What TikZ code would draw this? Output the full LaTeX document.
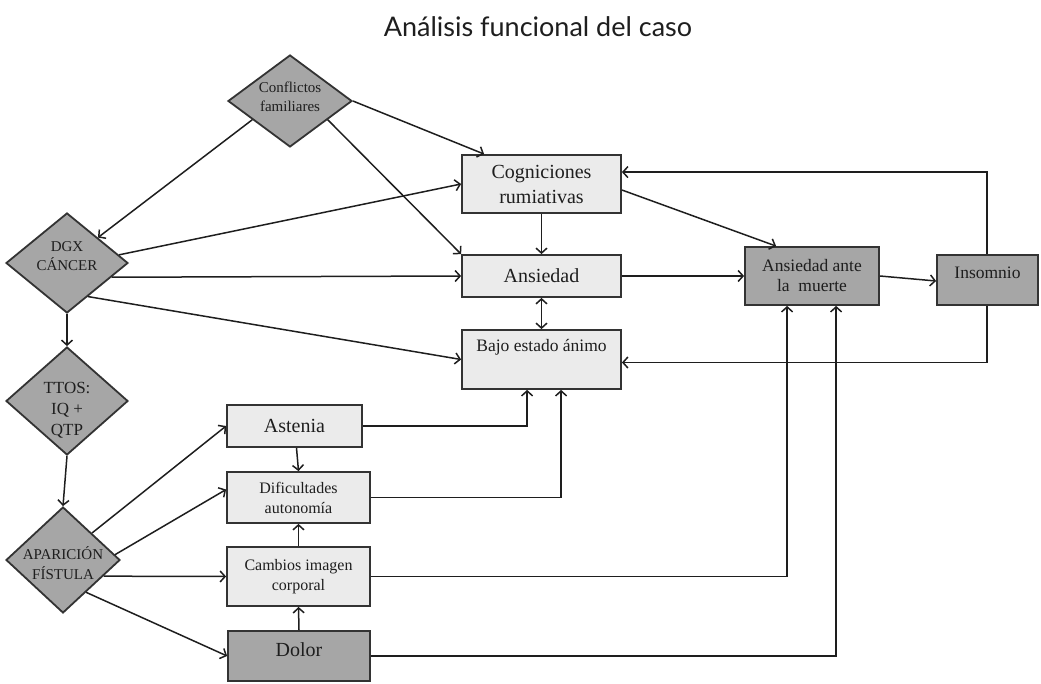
\documentclass[tikz,border=0pt]{standalone}
\usepackage{fontspec}
\setmainfont{Liberation Serif}
\newfontfamily\titlefont{Lato}
\usetikzlibrary{shapes.geometric,arrows.meta,calc}
\definecolor{lightfill}{HTML}{EBEBEB}
\definecolor{darkfill}{HTML}{A6A6A6}
\definecolor{boxline}{HTML}{333333}
\definecolor{lncol}{HTML}{1E1E1E}
\definecolor{txt}{HTML}{1E1E1E}
\begin{document}
\begin{tikzpicture}[x=1pt,y=-1pt,
  box/.style={rectangle,draw=boxline,line width=1.8pt,fill=lightfill,inner sep=0pt,align=center,text=txt},
  lbox/.style={box,fill=lightfill},
  dbox/.style={box,fill=darkfill},
  diam/.style={diamond,draw=boxline,line width=1.8pt,fill=darkfill,inner sep=0pt},
  lab/.style={align=center,text=txt,inner sep=0pt},
  tip/.style={},
  arr/.style={line width=1.5pt,draw=lncol,-{Straight Barb[length=5pt,width=11pt,line width=1.5pt]}},
  darr/.style={line width=1.5pt,draw=lncol,{Straight Barb[length=5pt,width=11pt,line width=1.5pt]}-{Straight Barb[length=5pt,width=11pt,line width=1.5pt]}},
  ln/.style={line width=1.5pt,draw=lncol}
]
\useasboundingbox (0,0) rectangle (1041,684);

% title
\node[text=txt,inner sep=0pt] (title) at (538,27) {\titlefont\fontsize{27}{30}\selectfont Análisis funcional del caso};

% diamonds
\node[diam,minimum width=124pt,minimum height=92pt,
  label={[lab,yshift=4pt,font=\fontsize{15}{19}\selectfont]center:Conflictos\\familiares}] (cf) at (290,101) {};
\node[diam,minimum width=122pt,minimum height=100pt,
  label={[lab,yshift=7pt,font=\fontsize{15}{18.5}\selectfont]center:DGX\\CÁNCER}] (dgx) at (67,263) {};
\node[diam,minimum width=122pt,minimum height=108pt,
  label={[lab,yshift=-9pt,font=\fontsize{17}{21}\selectfont]center:TTOS:\\IQ +\\QTP}] (ttos) at (67,401) {};
\node[diam,minimum width=114pt,minimum height=106pt,
  label={[lab,yshift=-3pt,font=\fontsize{15}{20}\selectfont]center:APARICIÓN\\FÍSTULA}] (ap) at (63,560) {};

% boxes
\node[lbox,minimum width=159pt,minimum height=58pt,font=\fontsize{20}{25}\selectfont] (cog) at (541.5,184) {Cogniciones\\rumiativas};
\node[lbox,minimum width=159pt,minimum height=42pt,font=\fontsize{20}{25}\selectfont] (ans) at (541.5,276) {Ansiedad};
\node[lbox,minimum width=159pt,minimum height=59pt,
  label={[lab,yshift=12pt,font=\fontsize{17.5}{21}\selectfont]center:Bajo estado ánimo}] (bajo) at (541.5,359.5) {};
\node[lbox,minimum width=135pt,minimum height=42pt,font=\fontsize{20}{25}\selectfont] (ast) at (294.5,426) {Astenia};
\node[lbox,minimum width=143pt,minimum height=51pt,font=\fontsize{16}{20}\selectfont] (dif) at (298.5,497.5) {Dificultades\\autonomía};
\node[lbox,minimum width=143pt,minimum height=59pt,font=\fontsize{16}{20}\selectfont] (cam) at (298.5,576.5) {Cambios imagen\\corporal};
\node[dbox,minimum width=142pt,minimum height=50pt,
  label={[lab,yshift=6pt,font=\fontsize{20}{25}\selectfont]center:Dolor}] (dol) at (299,656) {};
\node[dbox,minimum width=134pt,minimum height=58pt,font=\fontsize{17.5}{20}\selectfont] (anm) at (812,276) {Ansiedad ante\\la\ \ muerte};
\node[dbox,minimum width=101pt,minimum height=50pt,
  label={[lab,yshift=7pt,font=\fontsize{17.5}{21}\selectfont]center:Insomnio}] (ins) at (987.5,280) {};

% connectors from Conflictos familiares
\draw[arr] (cf.east) -- ($(cog.north west)+(23,0)$);
\draw[arr] ($(cf.east)!0.4!(cf.south)$) -- (ans.north west);
\draw[arr] ($(cf.west)!0.4!(cf.south)$) -- ($(dgx.north)!0.5!(dgx.east)$);

% from DGX
\draw[arr] ($(dgx.north)!0.84!(dgx.east)$) -- (cog.west);
\draw[arr] ($(dgx.east)!0.28!(dgx.south)$) -- (ans.west);
\draw[arr] ($(dgx.east)!0.66!(dgx.south)$) -- (bajo.west);
\draw[arr] (dgx.south) -- (ttos.north);
\draw[arr] (ttos.south) -- (ap.north);

% from Aparicion fistula
\draw[arr] ($(ap.north)!0.5!(ap.east)$) -- (ast.west);
\draw[arr] ($(ap.east)!0.1!(ap.north)$) -- ($(dif.west)+(0,-8)$);
\draw[arr] ($(ap.east)!0.3!(ap.south)$) -- (cam.west);
\draw[arr] ($(ap.east)!0.6!(ap.south)$) -- (dol.west);

% left column boxes
\draw[arr] ($(ast.south)+(2,0)$) -- (dif.north);
\draw[arr] (cam.north) -- (dif.south);
\draw[arr] (dol.north) -- (cam.south);
\draw[arr] (ast.east) -| ($(bajo.south west)+(66,0)$);
\draw[arr] (dif.east) -| ($(bajo.south west)+(100,0)$);
\draw[arr] (cam.east) -| ($(anm.south west)+(43,0)$);
\draw[arr] (dol.east) -| ($(anm.south west)+(92,0)$);

% central column
\draw[arr] (cog.south) -- (ans.north);
\draw[darr] (ans.south) -- (bajo.north);
\draw[arr] ($(cog.east)+(0,6)$) -- ($(anm.north west)+(32,0)$);
\draw[arr] (ans.east) -- (anm.west);
\draw[arr] (anm.east) -- ($(ins.west)+(0,1)$);

% insomnio feedback
\draw[arr] ($(ins.north west)+(51,0)$) |- ($(cog.north east)+(0,18)$);
\draw[arr] ($(ins.south west)+(51,0)$) |- ($(bajo.east)+(0,3)$);
\end{tikzpicture}
\end{document}
